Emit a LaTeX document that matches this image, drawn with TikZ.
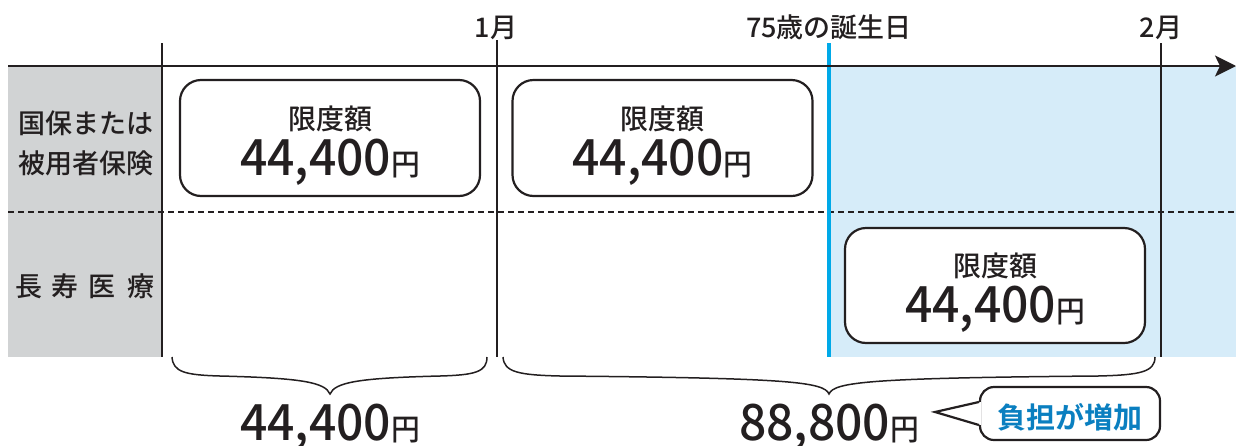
\documentclass[tikz,border=0pt]{standalone}
\usepackage{fontspec}
\usepackage{graphicx}
\setmainfont{Noto Sans CJK JP}[UprightFont=* Medium,BoldFont=* Bold]
\usetikzlibrary{arrows.meta,calc}
\definecolor{ink}{HTML}{231F20}
\definecolor{panelgray}{HTML}{D1D3D4}
\definecolor{paleblue}{HTML}{D6ECF9}
\definecolor{birthblue}{HTML}{00A9E8}
\definecolor{calloutblue}{HTML}{0A7FC0}
\newcommand\fsz[1]{\fontsize{#1}{#1}\selectfont}
\newcommand\yenamt[1]{\scalebox{0.96}[1]{#1{\fsz{30pt}円}}}
\begin{document}
\begin{tikzpicture}[x=1pt,y=-1pt,
  mainline/.style={draw=ink,line width=2.4pt},
  gridline/.style={draw=ink,line width=2.2pt},
  dashline/.style={draw=ink,line width=1.8pt,dash pattern=on 6pt off 4pt},
  limitbox/.style={draw=ink,line width=2.2pt,fill=white,rounded corners=21pt,
    minimum width=300pt,minimum height=116pt,inner sep=0pt},
  boxtitle/.style={anchor=base,text=ink,font=\fsz{28pt},inner sep=0pt},
  amount/.style={anchor=base,text=ink,font=\fsz{50pt},inner sep=0pt},
  rowlabel/.style={anchor=base,text=ink,font=\fsz{27pt},inner sep=0pt},
  headlabel/.style={anchor=base,text=ink,font=\fsz{27pt},inner sep=0pt},
  bracepath/.style={draw=ink,line width=1.5pt},
  calloutbox/.style={draw=ink,line width=2.2pt,fill=white,rounded corners=14pt,
    minimum width=180pt,minimum height=53pt,inner sep=0pt},
]
\useasboundingbox (0,0) rectangle (1236,445);
% background panels
\fill[panelgray] (8,67) rectangle (162,357);
\fill[paleblue] (829,67) rectangle (1236,357);
% dashed row separator
\coordinate (dl) at (8,212);
\coordinate (dr) at (1236,212);
\draw[dashline] (dl) -- (dr);
% vertical time markers
\coordinate (v0t) at (162,43);  \coordinate (v0b) at (162,357);
\coordinate (v1t) at (497,40);  \coordinate (v1b) at (497,357);
\coordinate (vbt) at (829,43);  \coordinate (vbb) at (829,357);
\coordinate (v2t) at (1161,43); \coordinate (v2b) at (1161,357);
\draw[gridline] (v0t) -- (v0b);
\draw[gridline] (v1t) -- (v1b);
\draw[gridline] (v2t) -- (v2b);
\draw[draw=birthblue,line width=4pt] (vbt) -- (vbb);
% time axis
\coordinate (axl) at (8,66);
\coordinate (axr) at (1236,66);
\draw[mainline,-{Stealth[length=21pt,width=21pt,inset=5pt]}] (axl) -- (axr);
% header labels
\node[headlabel] (m1) at (496,37) {1月};
\node[headlabel] (bd) at (829,37) {75歳の誕生日};
\node[headlabel] (m2) at (1161,37) {2月};
% row labels
\node[rowlabel] (r1a) at (86,133) {国保または};
\node[rowlabel] (r1b) at (86,173) {被用者保険};
\node[rowlabel] (r2a) at (29,296) {長};
\node[rowlabel] (r2b) at (65,296) {寿};
\node[rowlabel] (r2c) at (102,296) {医};
\node[rowlabel] (r2d) at (141,296) {療};
% limit boxes
\node[limitbox] (b1) at (330,138) {};
\node[limitbox] (b2) at (662.5,138) {};
\node[limitbox,minimum height=115pt] (b3) at (995,285.5) {};
\foreach \b in {b1,b2,b3}{
  \node[boxtitle] at ($(\b.center)+(0,-9)$) {限度額};
  \node[amount] at ($(\b.center)+(0,37)$) {\yenamt{44,400}};
}
% braces
\draw[bracepath] (172,357) .. controls (173,372) and (185,375) .. (220,376)
  .. controls (300,378) and (325,382) .. (330,394)
  .. controls (335,382) and (360,378) .. (440,376)
  .. controls (475,375) and (487,372) .. (487,357);
\draw[bracepath] (503,357) .. controls (504,372) and (518,375) .. (560,376)
  .. controls (790,378) and (824,382) .. (829,394)
  .. controls (834,382) and (868,378) .. (1098,376)
  .. controls (1140,375) and (1155,372) .. (1155,357);
% totals
\node[amount] (t1) at (330,440) {\yenamt{44,400}};
\node[amount] (t2) at (829,440) {\yenamt{88,800}};
% callout
\node[calloutbox] (cb) at (1070,413.5) {};
\coordinate (tip) at (935,412);
\fill[white] ($(cb.west)+(2,-11.5)$) -- (tip) -- ($(cb.west)+(2,11.5)$) -- cycle;
\draw[draw=ink,line width=2.2pt,line join=miter] ($(cb.west)+(0,-11.5)$) -- (tip) -- ($(cb.west)+(0,11.5)$);
\node[anchor=base,inner sep=0pt,text=calloutblue,font=\fsz{29pt}\bfseries] (ct) at (1070,428) {負担が増加};
\end{tikzpicture}
\end{document}
